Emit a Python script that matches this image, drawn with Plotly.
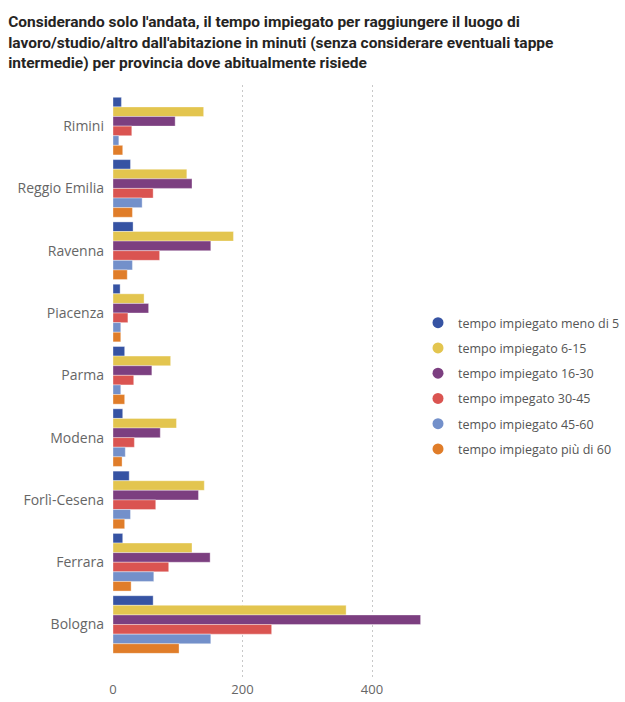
import plotly.graph_objects as go

provinces = ["Rimini", "Reggio Emilia", "Ravenna", "Piacenza", "Parma",
             "Modena", "Forlì-Cesena", "Ferrara", "Bologna"]

series_names = [
    "tempo impiegato meno di 5",
    "tempo impiegato 6-15",
    "tempo impiegato 16-30",
    "tempo impegato 30-45",
    "tempo impiegato 45-60",
    "tempo impiegato più di 60",
]

meno_5 = [13, 27, 31, 11, 18, 15, 25, 15, 62]
t_6_15 = [140, 114, 186, 48, 89, 98, 141, 122, 360]
t_16_30 = [96, 122, 151, 55, 60, 73, 132, 150, 475]
t_30_45 = [29, 62, 72, 23, 32, 33, 66, 86, 245]
t_45_60 = [9, 45, 30, 12, 12, 19, 27, 63, 151]
piu_60 = [15, 30, 22, 12, 18, 14, 18, 28, 102]

series_values = [meno_5, t_6_15, t_16_30, t_30_45, t_45_60, piu_60]
colors = ["#3653A3", "#E3C54F", "#7C3F80", "#DA5451", "#7390CA", "#E07D29"]

fig = go.Figure()
for name, vals, col in zip(series_names, series_values, colors):
    fig.add_trace(go.Bar(
        y=provinces, x=vals, orientation="h", name=name,
        marker=dict(color=col, line=dict(color="rgba(255,255,255,0.6)", width=0.6)),
        showlegend=False,
    ))
for i, (name, col) in enumerate(zip(series_names, colors)):
    fig.add_trace(go.Scatter(
        x=[None], y=[None], mode="markers", name=name,
        marker=dict(color=col, size=11, symbol="circle"),
        legendgroup=f"g{i}", showlegend=True,
    ))

fig.update_layout(
    width=625, height=702,
    margin=dict(l=113, r=0, t=85, b=22),
    paper_bgcolor="white", plot_bgcolor="white",
    barmode="group", bargap=0.075, bargroupgap=0,
    title=dict(
        text="Considerando solo l'andata, il tempo impiegato per raggiungere il luogo di<br>"
             "lavoro/studio/altro dall'abitazione in minuti (senza considerare eventuali tappe<br>"
             "intermedie) per provincia dove abitualmente risiede",
        x=0.013, xanchor="left", y=0.961, yanchor="top",
        font=dict(family="Roboto, sans-serif",
                  size=15.5, color="#252423", weight="bold"),
    ),
    xaxis=dict(
        range=[0, 790.7], tickvals=[0, 200, 400], ticktext=["0", "200", "400"],
        showgrid=True, gridcolor="#C8C8C8", griddash="2px,3px", gridwidth=1,
        zeroline=False, showline=False, automargin=False,
        tickfont=dict(family="Open Sans, sans-serif", size=13, color="#666666"),
    ),
    yaxis=dict(
        categoryorder="array", categoryarray=provinces,
        range=[8.89, -0.66], showgrid=False, zeroline=False, showline=False,
        ticks="", ticklabelstandoff=8, automargin=False,
        tickfont=dict(family="Open Sans, sans-serif", size=14, color="#666666"),
    ),
    legend=dict(
        x=1.0, xanchor="right", y=0.494, yanchor="middle",
        traceorder="grouped", tracegroupgap=6,
        bgcolor="rgba(255,255,255,0)",
        font=dict(family="Open Sans, sans-serif", size=12.5, color="#555555"),
        itemwidth=30,
    ),
)

fig.write_html("out.html")
